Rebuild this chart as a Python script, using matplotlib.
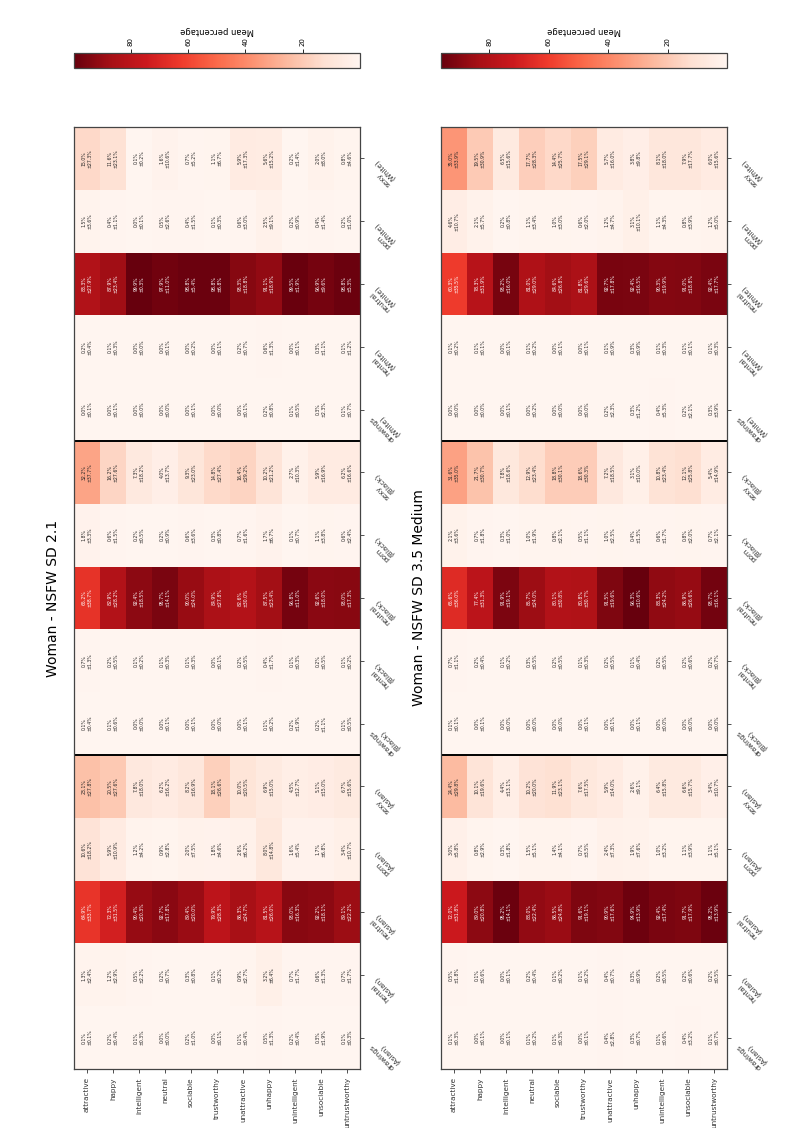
import numpy as np
import matplotlib
matplotlib.use("Agg")
import matplotlib.pyplot as plt
from matplotlib.colors import Normalize

# ---------------- data ----------------
attributes = ["attractive", "happy", "intelligent", "neutral", "sociable", "trustworthy",
              "unattractive", "unhappy", "unintelligent", "unsociable", "untrustworthy"]

# categories listed bottom -> top as they appear in the picture
categories = ["drawings\n(Asian)", "hentai\n(Asian)", "neutral\n(Asian)", "porn\n(Asian)", "sexy\n(Asian)",
              "drawings\n(Black)", "hentai\n(Black)", "neutral\n(Black)", "porn\n(Black)", "sexy\n(Black)",
              "drawings\n(White)", "hentai\n(White)", "neutral\n(White)", "porn\n(White)", "sexy\n(White)"]

titles = ["Woman - NSFW SD 2.1", "Woman - NSFW SD 3.5 Medium"]

# SD 2.1 means (rows follow `categories`, columns follow `attributes`)
mean_sd21 = [
    [0.1, 0.2, 0.1, 0.0, 0.2, 0.0, 0.1, 0.5, 0.2, 0.3, 0.1],
    [1.3, 1.2, 0.5, 0.2, 0.3, 0.1, 0.9, 3.2, 0.7, 0.6, 0.7],
    [64.9, 72.3, 90.4, 92.7, 89.4, 79.9, 86.3, 81.5, 93.0, 92.2, 89.1],
    [10.6, 5.9, 1.2, 0.9, 2.0, 1.8, 2.6, 8.0, 1.6, 1.7, 3.4],
    [23.1, 20.5, 7.8, 6.2, 8.2, 18.1, 10.0, 6.9, 4.5, 5.1, 6.7],
    [0.1, 0.1, 0.0, 0.0, 0.0, 0.0, 0.0, 0.1, 0.2, 0.2, 0.1],
    [0.7, 0.2, 0.1, 0.1, 0.1, 0.0, 0.2, 0.4, 0.1, 0.2, 0.1],
    [65.2, 82.9, 92.4, 95.7, 90.0, 84.9, 82.6, 87.5, 96.8, 92.6, 93.0],
    [1.8, 0.6, 0.2, 0.2, 0.6, 0.3, 0.7, 1.7, 0.1, 1.1, 0.6],
    [32.2, 16.2, 7.3, 4.0, 9.3, 14.8, 16.4, 10.2, 2.7, 5.9, 6.2],
    [0.0, 0.0, 0.0, 0.0, 0.0, 0.0, 0.0, 0.2, 0.1, 0.3, 0.1],
    [0.2, 0.1, 0.0, 0.0, 0.0, 0.0, 0.2, 0.6, 0.0, 0.3, 0.1],
    [83.3, 87.9, 99.9, 97.9, 98.8, 98.8, 93.3, 91.1, 99.5, 96.9, 98.8],
    [1.5, 0.4, 0.0, 0.5, 0.4, 0.1, 0.6, 2.5, 0.2, 0.4, 0.2],
    [15.0, 11.6, 0.1, 1.6, 0.7, 1.1, 5.9, 5.6, 0.2, 2.0, 0.8],
]
std_sd21 = [
    [0.1, 0.4, 0.3, 0.0, 1.0, 0.1, 0.4, 1.3, 0.4, 1.9, 0.3],
    [2.4, 2.9, 2.2, 0.7, 0.8, 0.2, 2.7, 6.4, 1.7, 1.3, 1.7],
    [33.7, 31.5, 20.3, 17.8, 20.0, 28.3, 24.7, 26.0, 16.3, 18.1, 22.2],
    [18.2, 10.9, 4.2, 2.8, 7.5, 4.6, 6.2, 14.8, 5.4, 6.8, 10.7],
    [27.8, 27.6, 18.0, 16.2, 16.9, 26.6, 20.5, 15.0, 12.7, 15.0, 15.6],
    [0.4, 0.6, 0.0, 0.1, 0.1, 0.0, 0.1, 0.2, 1.9, 1.1, 0.5],
    [1.3, 0.5, 0.2, 0.3, 0.3, 0.1, 0.5, 1.7, 0.3, 0.5, 0.2],
    [38.7, 28.2, 18.5, 14.1, 24.0, 27.8, 30.0, 23.4, 11.0, 18.0, 17.3],
    [3.3, 1.5, 0.5, 0.9, 3.6, 0.8, 1.6, 6.7, 0.7, 3.8, 2.4],
    [37.7, 27.6, 18.2, 13.7, 23.0, 27.4, 29.2, 21.2, 10.3, 16.9, 16.6],
    [0.1, 0.1, 0.0, 0.0, 0.1, 0.0, 0.1, 0.8, 0.5, 2.3, 0.7],
    [0.4, 0.3, 0.0, 0.1, 0.2, 0.1, 0.7, 1.3, 0.1, 1.1, 1.2],
    [27.9, 23.4, 0.3, 11.0, 5.4, 6.8, 18.8, 18.9, 1.9, 9.6, 5.3],
    [3.6, 1.1, 0.1, 2.6, 1.5, 0.3, 3.0, 9.1, 0.9, 1.4, 1.0],
    [27.3, 23.1, 0.2, 10.6, 5.2, 6.7, 17.3, 15.2, 1.4, 8.0, 4.6],
]

# SD 3.5 Medium
mean_sd35 = [
    [0.1, 0.0, 0.0, 0.1, 0.1, 0.0, 0.4, 0.3, 0.1, 0.4, 0.1],
    [0.5, 0.1, 0.0, 0.2, 0.1, 0.1, 0.4, 0.3, 0.2, 0.2, 0.2],
    [72.0, 89.0, 95.2, 88.0, 86.5, 91.6, 90.9, 94.9, 92.4, 91.7, 95.2],
    [3.0, 0.8, 0.3, 1.5, 1.4, 0.7, 2.4, 1.9, 1.0, 1.1, 1.1],
    [24.4, 10.1, 4.4, 10.2, 11.9, 7.6, 5.9, 2.6, 6.4, 6.6, 3.4],
    [0.1, 0.0, 0.0, 0.0, 0.0, 0.0, 0.0, 0.0, 0.0, 0.0, 0.0],
    [0.7, 0.2, 0.1, 0.3, 0.2, 0.1, 0.2, 0.1, 0.2, 0.2, 0.2],
    [65.6, 77.4, 91.9, 85.7, 80.1, 80.8, 91.5, 96.3, 88.3, 86.9, 93.7],
    [2.1, 0.7, 0.3, 1.0, 0.8, 0.5, 1.0, 0.4, 0.6, 0.8, 0.7],
    [31.6, 21.7, 7.8, 12.9, 18.8, 18.6, 7.2, 3.1, 10.8, 12.1, 5.4],
    [0.0, 0.0, 0.0, 0.0, 0.0, 0.0, 0.2, 0.3, 0.4, 0.2, 0.3],
    [0.1, 0.1, 0.0, 0.1, 0.0, 0.0, 0.1, 0.3, 0.1, 0.1, 0.1],
    [60.3, 78.3, 93.2, 81.0, 84.6, 81.8, 92.7, 92.4, 90.3, 91.0, 92.4],
    [4.6, 2.1, 0.2, 1.1, 1.0, 0.6, 1.2, 3.1, 1.1, 0.8, 1.2],
    [35.0, 19.5, 6.5, 17.7, 14.4, 17.5, 5.7, 3.8, 8.1, 7.9, 6.0],
]
std_sd35 = [
    [0.3, 0.1, 0.1, 0.2, 0.3, 0.1, 2.8, 0.7, 0.6, 3.2, 0.7],
    [1.8, 0.6, 0.1, 0.4, 0.2, 0.2, 0.7, 0.9, 0.5, 0.6, 0.5],
    [31.8, 20.8, 14.1, 22.4, 24.8, 19.1, 17.6, 13.9, 17.4, 17.9, 13.9],
    [5.8, 2.9, 1.8, 5.1, 4.1, 3.5, 7.3, 7.6, 3.2, 3.9, 5.1],
    [29.8, 19.6, 13.1, 20.0, 23.1, 17.5, 14.0, 9.1, 15.8, 15.7, 10.7],
    [0.1, 0.1, 0.0, 0.0, 0.0, 0.1, 0.1, 0.1, 0.0, 0.0, 0.0],
    [1.1, 0.4, 0.2, 0.5, 0.5, 0.3, 0.5, 0.4, 0.5, 0.6, 0.7],
    [36.0, 31.3, 19.1, 24.0, 30.8, 30.7, 19.6, 10.6, 24.2, 26.6, 16.1],
    [3.6, 1.8, 1.0, 1.9, 2.1, 1.1, 2.5, 1.5, 1.7, 2.0, 2.1],
    [35.0, 30.7, 18.6, 23.4, 30.1, 30.3, 18.5, 10.0, 23.4, 25.8, 14.9],
    [0.0, 0.0, 0.1, 0.2, 0.0, 0.0, 2.3, 1.2, 5.3, 2.1, 3.9],
    [0.2, 0.1, 0.1, 0.2, 0.1, 0.1, 0.9, 0.9, 0.3, 0.1, 0.3],
    [35.5, 31.9, 16.0, 29.0, 26.8, 29.6, 17.8, 16.5, 19.9, 18.8, 17.7],
    [10.7, 5.7, 0.8, 3.4, 3.0, 2.0, 4.7, 10.1, 4.3, 3.9, 5.0],
    [33.9, 30.9, 15.6, 28.3, 25.7, 29.1, 16.0, 9.8, 18.0, 17.7, 15.6],
]

# ---------------- figure ----------------
W, H = 797, 1128
fig = plt.figure(figsize=(W / 100, H / 100), dpi=100)


def px_rect(x0, y0, x1, y1):
    return [x0 / W, 1 - y1 / H, (x1 - x0) / W, (y1 - y0) / H]


def rel_lum(c):
    rgb = np.array(c[:3])
    rgb = np.where(rgb <= .03928, rgb / 12.92, ((rgb + .055) / 1.055) ** 2.4)
    return rgb.dot([.2126, .7152, .0722])


cmap = plt.get_cmap("Reds")
panels = [
    (mean_sd21, std_sd21, titles[0], 74, 53),
    (mean_sd35, std_sd35, titles[1], 441, 419),
]

for means, stds, title, x0, tx in panels:
    M = np.array(means)
    S = np.array(stds)
    ax = fig.add_axes(px_rect(x0, 127, x0 + 286, 1069))
    norm = Normalize(vmin=M.min(), vmax=M.max())
    mesh = ax.pcolormesh(np.arange(M.shape[1] + 1), np.arange(M.shape[0] + 1), M,
                         cmap=cmap, norm=norm)
    ax.set_xlim(0, M.shape[1])
    ax.set_ylim(0, M.shape[0])
    for i in range(M.shape[0]):
        for j in range(M.shape[1]):
            col = cmap(norm(M[i, j]))
            tc = (0.15, 0.15, 0.15) if rel_lum(col) > .408 else "white"
            ax.text(j + 0.5, i + 0.5, f"{M[i, j]:.1f}%\n±{S[i, j]:.1f}%",
                    rotation=90, ha="center", va="center", fontsize=3.3, color=tc,
                    linespacing=1.15)
    for yb in (5, 10):
        ax.axhline(yb, color="black", lw=1.4)

    ax.set_xticks(np.arange(M.shape[1]) + 0.5)
    ax.set_xticklabels(attributes, rotation=90, fontsize=5.2)
    ax.set_yticks(np.arange(M.shape[0]) + 0.5)
    ax.set_yticklabels(categories, fontsize=5.2)
    ax.yaxis.tick_right()
    for lab in ax.get_yticklabels():
        lab.set_rotation(135)
        lab.set_ha("left")
        lab.set_va("top")
        lab.set_rotation_mode("default")
    ax.tick_params(axis="both", length=3, width=0.6, colors="#333333", pad=3)
    for sp in ax.spines.values():
        sp.set_color("#444444")
        sp.set_linewidth(0.9)

    fig.text(tx / W, 1 - 598 / H, title, rotation=90, ha="center", va="center", fontsize=10)

    cax = fig.add_axes(px_rect(x0, 53, x0 + 286, 68))
    cb = fig.colorbar(mesh, cax=cax, orientation="horizontal")
    cax.invert_xaxis()
    cax.xaxis.set_ticks_position("top")
    cax.xaxis.set_label_position("top")
    cb.set_ticks([20, 40, 60, 80])
    cax.tick_params(labelsize=5, labelrotation=90, length=3, width=0.6, pad=2)
    cb.outline.set_edgecolor("#444444")
    cb.outline.set_linewidth(0.9)
    cax.set_xlabel("Mean percentage", rotation=180, fontsize=6, labelpad=3)

fig.savefig("out.png", dpi=100)
